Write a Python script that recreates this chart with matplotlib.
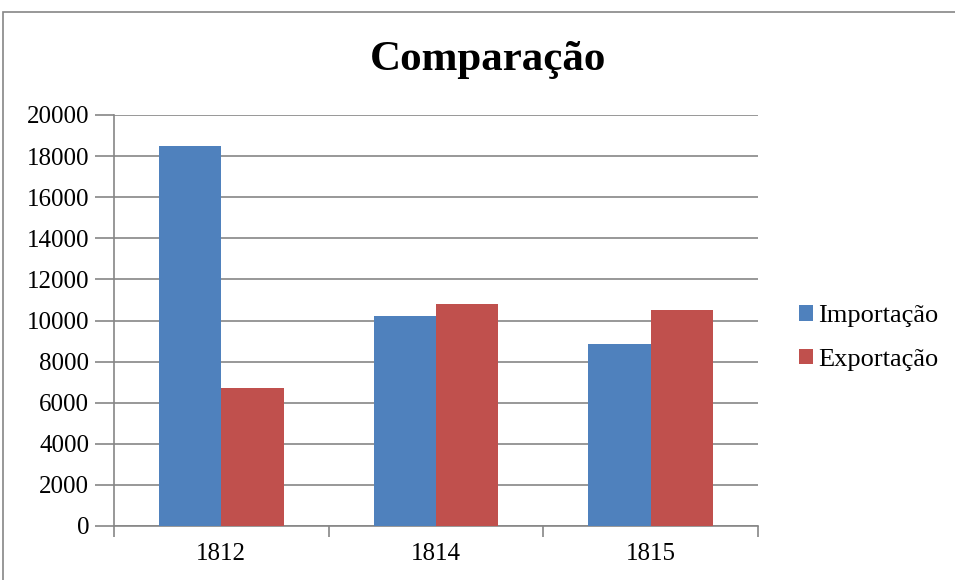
import numpy as np
import matplotlib.pyplot as plt
from matplotlib.patches import Rectangle

plt.rcParams['font.family'] = ['Liberation Serif', 'DejaVu Serif']

years = ["1812", "1814", "1815"]
importacao = [18500, 10200, 8850]
exportacao = [6700, 10800, 10500]
series_names = ["Importação", "Exportação"]
colors = ["#4F81BD", "#C0504D"]

fig = plt.figure(figsize=(9.55, 5.8), dpi=100)
ax = fig.add_axes([114 / 955, 1 - 526 / 580, (758 - 114) / 955, (526 - 115) / 580])

x = np.arange(len(years))
w = 0.29
ax.bar(x - w / 2, importacao, w, color=colors[0], label=series_names[0], zorder=3)
ax.bar(x + w / 2, exportacao, w, color=colors[1], label=series_names[1], zorder=3)

ax.set_xlim(-0.5, 2.5)
ax.set_ylim(0, 20000)
ax.set_yticks(np.arange(0, 20001, 2000))
ax.tick_params(axis='y', labelsize=18, length=14, color='#868686', width=1.2, pad=4)
ax.yaxis.grid(True, color='#868686', linewidth=1.2, zorder=0)

# category labels in the middle, tick marks at the boundaries
ax.set_xticks(x)
ax.set_xticklabels(years, fontsize=18)
ax.tick_params(axis='x', length=0, pad=12)
ax.set_xticks([-0.5, 0.5, 1.5, 2.5], minor=True)
ax.tick_params(axis='x', which='minor', length=8, color='#868686', width=1.2)

for s in ['top', 'right']:
    ax.spines[s].set_visible(False)
for s in ['left', 'bottom']:
    ax.spines[s].set_color('#868686')
    ax.spines[s].set_linewidth(1.2)

fig.text(488 / 955, 1 - 60 / 580, "Comparação", fontsize=31, fontweight='bold',
         ha='center', va='center')

leg = fig.legend(loc='center left', bbox_to_anchor=(775 / 955, 1 - 338 / 580),
                 frameon=False, fontsize=19, handlelength=0.55, handleheight=0.55,
                 handletextpad=0.2, labelspacing=0.8)

# outer chart border
fig.add_artist(Rectangle((3 / 955, -0.1), 1.1, 1 - 12 / 580 + 0.1,
                         transform=fig.transFigure, fill=False,
                         edgecolor='#868686', linewidth=1.2))

fig.savefig("out.png", dpi=100)
